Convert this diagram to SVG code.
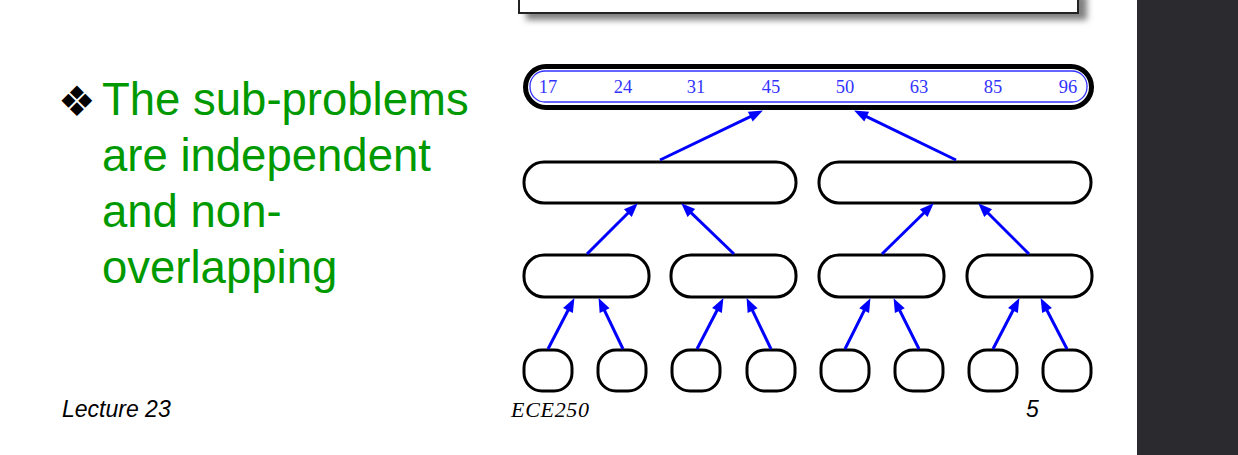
<svg xmlns="http://www.w3.org/2000/svg" width="1238" height="455" viewBox="0 0 1238 455">
  <defs>
    <style>
      .box { fill: #ffffff; stroke: #000000; stroke-width: 3; }
      .edge { stroke: #0000ff; stroke-width: 3; fill: none; marker-end: url(#head); }
      .num { font-family: "Liberation Serif", serif; font-size: 18.5px; fill: #3333ff; text-anchor: middle; }
      .bul { font-family: "Liberation Sans", Arial, sans-serif; font-size: 45.5px; fill: #009a00; }
      .foot { font-family: "Liberation Sans", Arial, sans-serif; font-size: 23px; font-style: italic; fill: #000000; }
    </style>
    <marker id="head" markerUnits="userSpaceOnUse" markerWidth="16" markerHeight="14" viewBox="0 -7 15 14" refX="7" refY="0" orient="auto">
      <path d="M0,-5.5 L14,0 L0,5.5 z" fill="#0000ff"/>
    </marker>
    <filter id="shadow" x="-5%" y="-50%" width="115%" height="250%">
      <feDropShadow dx="8" dy="6" stdDeviation="3" flood-color="#000000" flood-opacity="0.5"/>
    </filter>
  </defs>

  <rect x="0" y="0" width="1238" height="455" fill="#ffffff"/>
  <rect x="1137" y="0" width="101" height="455" fill="#2b2a2f"/>

  <!-- partial top box -->
  <rect x="519" y="-10" width="559" height="23" fill="#ffffff" stroke="#222222" stroke-width="2" filter="url(#shadow)"/>

  <!-- bullet text -->
  <g id="bullet">
    <text x="58" y="116" font-family="DejaVu Sans, sans-serif" font-size="42" fill="#000000">❖</text>
    <text class="bul" x="102" y="115">The sub-problems</text>
    <text class="bul" x="102" y="171">are independent</text>
    <text class="bul" x="102" y="227">and non-</text>
    <text class="bul" x="102" y="283">overlapping</text>
  </g>

  <!-- root node -->
  <g id="root">
    <rect x="525.5" y="66.5" width="566" height="41" rx="20.5" fill="#ffffff" stroke="#000000" stroke-width="5"/>
    <rect x="530" y="71" width="557" height="31" rx="15" fill="none" stroke="#3333ff" stroke-width="1.3"/>
    <text class="num" x="548" y="93">17</text>
    <text class="num" x="623" y="93">24</text>
    <text class="num" x="696" y="93">31</text>
    <text class="num" x="771" y="93">45</text>
    <text class="num" x="845" y="93">50</text>
    <text class="num" x="919" y="93">63</text>
    <text class="num" x="993" y="93">85</text>
    <text class="num" x="1068" y="93">96</text>
  </g>

  <!-- level 2 -->
  <g id="n2a"><rect class="box" x="524" y="162" width="272" height="41" rx="20"/></g>
  <g id="n2b"><rect class="box" x="819" y="162" width="272" height="41" rx="20"/></g>

  <!-- level 3 -->
  <g id="n3a"><rect class="box" x="524" y="255" width="125" height="42" rx="20"/></g>
  <g id="n3b"><rect class="box" x="671" y="255" width="125" height="42" rx="20"/></g>
  <g id="n3c"><rect class="box" x="819" y="255" width="125" height="42" rx="20"/></g>
  <g id="n3d"><rect class="box" x="967" y="255" width="125" height="42" rx="20"/></g>

  <!-- level 4 -->
  <g id="n4a"><rect class="box" x="524" y="350" width="48" height="41" rx="18"/></g>
  <g id="n4b"><rect class="box" x="598" y="350" width="48" height="41" rx="18"/></g>
  <g id="n4c"><rect class="box" x="672" y="350" width="48" height="41" rx="18"/></g>
  <g id="n4d"><rect class="box" x="747" y="350" width="48" height="41" rx="18"/></g>
  <g id="n4e"><rect class="box" x="821" y="350" width="48" height="41" rx="18"/></g>
  <g id="n4f"><rect class="box" x="895" y="350" width="48" height="41" rx="18"/></g>
  <g id="n4g"><rect class="box" x="969" y="350" width="48" height="41" rx="18"/></g>
  <g id="n4h"><rect class="box" x="1043" y="350" width="48" height="41" rx="18"/></g>

  <!-- connectors -->
  <g id="connectors">
    <line class="edge" x1="660" y1="160" x2="756.6" y2="113.6"/>
    <line class="edge" x1="956" y1="160" x2="860.4" y2="113.6"/>
    <line class="edge" x1="587" y1="254" x2="632.8" y2="208.2"/>
    <line class="edge" x1="734" y1="254" x2="686.3" y2="208.2"/>
    <line class="edge" x1="882" y1="254" x2="928.7" y2="208.2"/>
    <line class="edge" x1="1029" y1="254" x2="983.2" y2="208.2"/>
    <line class="edge" x1="548" y1="349" x2="571.2" y2="304.3"/>
    <line class="edge" x1="623" y1="349" x2="601.6" y2="304.4"/>
    <line class="edge" x1="697" y1="349" x2="720.2" y2="304.3"/>
    <line class="edge" x1="771" y1="349" x2="749.6" y2="304.4"/>
    <line class="edge" x1="845" y1="349" x2="867.3" y2="304.4"/>
    <line class="edge" x1="919" y1="349" x2="896.7" y2="304.4"/>
    <line class="edge" x1="993" y1="349" x2="1016.2" y2="304.3"/>
    <line class="edge" x1="1067" y1="349" x2="1043.8" y2="304.3"/>
  </g>

  <!-- footer -->
  <g id="footer">
    <text class="foot" x="62" y="417">Lecture 23</text>
    <text x="511" y="417" font-family="Liberation Serif, serif" font-style="italic" font-size="22" textLength="78" fill="#000000">ECE250</text>
    <text class="foot" x="1026" y="417">5</text>
  </g>
</svg>
